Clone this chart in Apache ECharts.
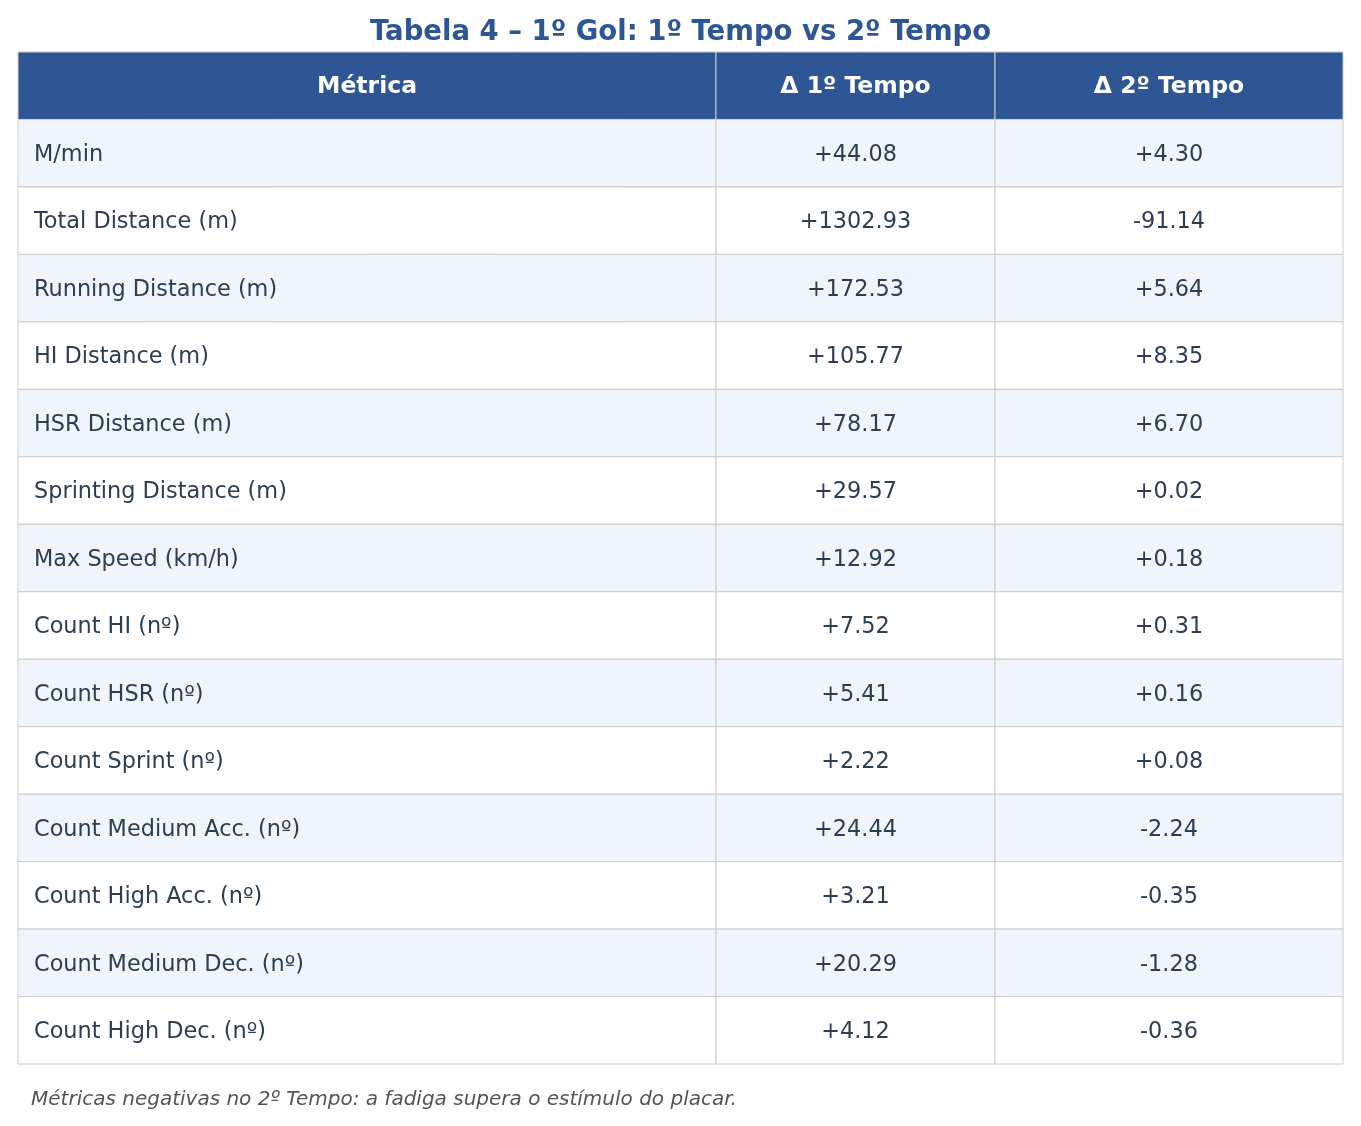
<!DOCTYPE html>
<html>
<head>
<meta charset="utf-8">
<script src="https://cdn.jsdelivr.net/npm/echarts@6/dist/echarts.min.js"></script>
<style>
  html, body { margin: 0; padding: 0; background: #fff; }
  #main { width: 1361px; height: 1126px; }
</style>
</head>
<body>
<div id="main"></div>
<script>
var headers = ['Métrica', 'Δ 1º Tempo', 'Δ 2º Tempo'];
var metrics = [
  'M/min', 'Total Distance (m)', 'Running Distance (m)', 'HI Distance (m)',
  'HSR Distance (m)', 'Sprinting Distance (m)', 'Max Speed (km/h)',
  'Count HI (nº)', 'Count HSR (nº)', 'Count Sprint (nº)',
  'Count Medium Acc. (nº)', 'Count High Acc. (nº)',
  'Count Medium Dec. (nº)', 'Count High Dec. (nº)'
];
var firstHalf = [44.08, 1302.93, 172.53, 105.77, 78.17, 29.57, 12.92, 7.52, 5.41, 2.22, 24.44, 3.21, 20.29, 4.12];
var secondHalf = [4.30, -91.14, 5.64, 8.35, 6.70, 0.02, 0.18, 0.31, 0.16, 0.08, -2.24, -0.35, -1.28, -0.36];

var FONT = 'DejaVu Sans';
// column edges on the x value axis (table width units)
var colEdges = [0, 698, 977, 1325];

function fmt(v) {
  return (v >= 0 ? '+' : '') + v.toFixed(2);
}

// rows: 0 = header, 1.. = metric rows
var rowNames = ['header'].concat(metrics);
var cells = [];
for (var r = 0; r < rowNames.length; r++) {
  for (var c = 0; c < 3; c++) {
    var txt;
    if (r === 0) txt = headers[c];
    else if (c === 0) txt = metrics[r - 1];
    else if (c === 1) txt = fmt(firstHalf[r - 1]);
    else txt = fmt(secondHalf[r - 1]);
    cells.push({ value: [c, r], txt: txt });
  }
}

var myChart = echarts.init(document.getElementById('main'));

var option = {
  backgroundColor: '#ffffff',
  animation: false,
  title: [{
    text: 'Tabela 4 – 1º Gol: 1º Tempo vs 2º Tempo',
    left: 'center',
    top: 14,
    textStyle: { fontFamily: FONT, fontSize: 27.5, fontWeight: 'bold', color: '#2e5594' }
  }, {
    text: 'Métricas negativas no 2º Tempo: a fadiga supera o estímulo do placar.',
    left: 26,
    top: 1085,
    textStyle: { fontFamily: FONT, fontSize: 20, fontStyle: 'italic', fontWeight: 'normal', color: '#555555' }
  }],
  grid: { left: 18, right: 18, top: 52, bottom: 62 },
  xAxis: { type: 'value', min: 0, max: 1325, show: false },
  yAxis: { type: 'category', data: rowNames, inverse: true, show: false },
  series: [{
    type: 'custom',
    data: cells,
    renderItem: function (params, api) {
      var c = api.value(0), r = api.value(1);
      var p0 = api.coord([colEdges[c], r]);
      var p1 = api.coord([colEdges[c + 1], r]);
      var h = api.size([0, 1])[1];
      var x = p0[0], y = p0[1] - h / 2, w = p1[0] - p0[0];
      var fill = r === 0 ? '#2e5594' : (r % 2 === 1 ? '#f0f4fb' : '#ffffff');
      var item = cells[params.dataIndex];
      var left = c === 0 && r > 0;
      return {
        type: 'group',
        children: [{
          type: 'rect',
          shape: { x: x, y: y, width: w, height: h },
          style: { fill: fill, stroke: '#cccccc', lineWidth: 1 }
        }, {
          type: 'text',
          x: left ? x + 16 : x + w / 2,
          y: y + h / 2 + (r === 0 ? 1 : 2),
          style: {
            text: item.txt,
            fontFamily: FONT,
            fontSize: r === 0 ? 23.5 : 22.4,
            fontWeight: r === 0 ? 'bold' : 'normal',
            fill: r === 0 ? '#ffffff' : '#2c3e50',
            align: left ? 'left' : 'center',
            verticalAlign: 'middle'
          }
        }]
      };
    }
  }]
};
myChart.setOption(option);
</script>
</body>
</html>
